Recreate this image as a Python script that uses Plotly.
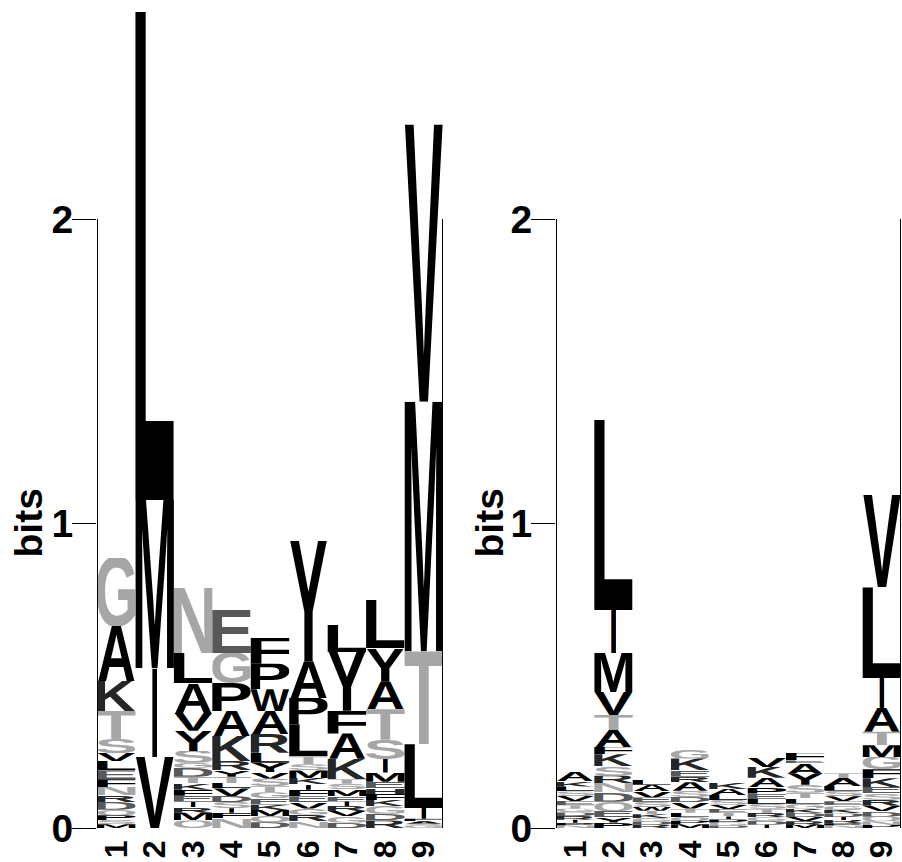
import base64
import plotly.graph_objects as go

# ---------------- data ----------------
POSITIONS = [1, 2, 3, 4, 5, 6, 7, 8, 9]
POSITION_LABELS = ["1", "2", "3", "4", "5", "6", "7", "8", "9"]
Y_TICKS = [0, 1, 2]
Y_TICK_LABELS = ["0", "1", "2"]
Y_TITLE = "bits"

# letters of each stack, from top to bottom, and their heights in bits
LEFT_LETTERS = [
    "GAKTSVLEFNRDQPSM",
    "LMIV",
    "NLAVYSGDTKFEIRMQ",
    "EGPAKRYTLVDSIFN",
    "FPWARLYVSTGEKMQD",
    "YAPLTSMKIFEVGRN",
    "LYFAKTSMEIRVGD",
    "LYATSIMEHFKGDR",
    "VMTLIFASG",
]
LEFT_BITS = [
    [0.224, 0.180, 0.099, 0.092, 0.046, 0.026, 0.030, 0.030, 0.025, 0.028, 0.022, 0.025, 0.018, 0.016, 0.014, 0.012],
    [1.603, 0.552, 0.292, 0.233],
    [0.213, 0.099, 0.098, 0.059, 0.066, 0.039, 0.016, 0.030, 0.020, 0.022, 0.020, 0.020, 0.018, 0.018, 0.025, 0.025],
    [0.144, 0.099, 0.092, 0.082, 0.082, 0.030, 0.022, 0.020, 0.018, 0.025, 0.020, 0.020, 0.015, 0.018, 0.032],
    [0.085, 0.083, 0.072, 0.075, 0.062, 0.033, 0.030, 0.022, 0.025, 0.020, 0.020, 0.020, 0.018, 0.020, 0.020, 0.019],
    [0.395, 0.121, 0.086, 0.105, 0.027, 0.020, 0.025, 0.020, 0.018, 0.022, 0.020, 0.020, 0.020, 0.022, 0.022],
    [0.089, 0.193, 0.075, 0.083, 0.067, 0.015, 0.018, 0.022, 0.018, 0.015, 0.016, 0.018, 0.020, 0.018],
    [0.159, 0.110, 0.090, 0.100, 0.063, 0.045, 0.030, 0.022, 0.018, 0.020, 0.020, 0.025, 0.022, 0.025],
    [0.910, 0.820, 0.305, 0.209, 0.036, 0.008, 0.008, 0.007, 0.007],
]

RIGHT_LETTERS = [
    "AKLSVETGDRIPN",
    "LIMVTAFKSRNDQEYP",
    "LAVESWTKGDR",
    "GKERASDVTLQPM",
    "KALSVETIPGD",
    "VKAPELSTRGDI",
    "FEAYSTLGKDVRM",
    "TALSVEGKDIRPN",
    "VLIATMGFKESRVDQNP",
]
RIGHT_BITS = [
    [0.030, 0.018, 0.016, 0.015, 0.016, 0.014, 0.012, 0.012, 0.012, 0.012, 0.010, 0.009, 0.008],
    [0.624, 0.141, 0.128, 0.076, 0.049, 0.056, 0.024, 0.040, 0.030, 0.024, 0.030, 0.032, 0.030, 0.020, 0.018, 0.018],
    [0.016, 0.022, 0.020, 0.015, 0.016, 0.012, 0.012, 0.012, 0.012, 0.010, 0.011],
    [0.028, 0.038, 0.022, 0.018, 0.028, 0.020, 0.018, 0.020, 0.014, 0.014, 0.012, 0.012, 0.012],
    [0.022, 0.020, 0.016, 0.016, 0.014, 0.012, 0.012, 0.010, 0.010, 0.010, 0.008],
    [0.030, 0.035, 0.030, 0.022, 0.018, 0.016, 0.016, 0.014, 0.014, 0.012, 0.012, 0.011],
    [0.024, 0.010, 0.034, 0.036, 0.026, 0.018, 0.018, 0.016, 0.014, 0.014, 0.014, 0.012, 0.010],
    [0.016, 0.026, 0.016, 0.018, 0.016, 0.014, 0.014, 0.012, 0.012, 0.010, 0.010, 0.008, 0.008],
    [0.304, 0.297, 0.099, 0.078, 0.044, 0.039, 0.040, 0.030, 0.028, 0.020, 0.022, 0.020, 0.018, 0.018, 0.015, 0.012, 0.010],
]

# ---------------- styling ----------------
FONT = "Liberation Sans, Arial, Helvetica, sans-serif"
LIGHT = "#a6a6a6"
DARK = "#595959"
VDARK = "#262626"
BLACK = "#000000"
COLOR = {c: BLACK for c in "ACDEFGHIKLMNPQRSTVWY"}
for c in "GSTNQC":
    COLOR[c] = LIGHT
for c in "ED":
    COLOR[c] = DARK
for c in "KRH":
    COLOR[c] = VDARK

CAP = 688  # cap height of Liberation Sans Bold in 1/1000 em
ADV = dict(A=722, C=722, D=722, E=667, F=611, G=778, H=722, I=278, K=722, L=611,
           M=833, N=722, P=667, Q=778, R=722, S=667, T=611, V=667, W=944, Y=667)
LSB = dict(A=0, C=49, D=76, E=76, F=76, G=44, H=73, I=64, K=76, L=76,
           M=69, N=76, P=76, Q=43, R=76, S=35, T=21, V=0, W=5, Y=0)
RSB = dict(A=0, C=45, D=47, E=53, F=47, G=50, H=73, I=64, K=0, L=28,
           M=69, N=76, P=40, Q=40, R=20, S=40, T=21, V=0, W=5, Y=0)

_cache = {}


def glyph_uri(ch):
    if ch in _cache:
        return _cache[ch]
    x0 = LSB[ch]
    w = ADV[ch] - LSB[ch] - RSB[ch]
    svg = (f'<svg xmlns="http://www.w3.org/2000/svg" width="{w}" height="{CAP}" '
           f'viewBox="{x0} {-CAP} {w} {CAP}" preserveAspectRatio="none">'
           f'<text x="0" y="0" font-family="{FONT}" font-weight="700" font-size="1000" '
           f'fill="{COLOR[ch]}">{ch}</text></svg>')
    uri = "data:image/svg+xml;base64," + base64.b64encode(svg.encode()).decode()
    _cache[ch] = uri
    return uri


W_PX, H_PX = 902, 862
BOTTOM = 34
PX_PER_BIT = 304.5
Y_MAX = (H_PX - BOTTOM) / PX_PER_BIT

fig = go.Figure()
images = []
shapes = []
annotations = []

panels = [
    ("x", "y", LEFT_LETTERS, LEFT_BITS, 28 / W_PX),
    ("x2", "y2", RIGHT_LETTERS, RIGHT_BITS, 489 / W_PX),
]
for xr, yr, letters, bits, title_x in panels:
    fig.add_trace(go.Scatter(x=POSITIONS, y=[0] * len(POSITIONS), mode="none",
                             hoverinfo="skip", showlegend=False, xaxis=xr, yaxis=yr))
    for pos, lets, hs in zip(POSITIONS, letters, bits):
        top = sum(hs)
        for ch, h in zip(lets, hs):
            wid = 0.13 if ch == "I" else 1.0
            images.append(dict(source=glyph_uri(ch), xref=xr, yref=yr,
                               x=pos - wid / 2, y=top, sizex=wid, sizey=h,
                               xanchor="left", yanchor="top", sizing="stretch",
                               layer="above"))
            top -= h
    for xv in (POSITIONS[0] - 0.5, POSITIONS[-1] + 0.5):
        shapes.append(dict(type="line", xref=xr, yref=yr, x0=xv, x1=xv,
                           y0=0, y1=Y_TICKS[-1], line=dict(color="black", width=2)))
    annotations.append(dict(text=Y_TITLE, xref="paper", yref=yr, x=title_x,
                            y=(Y_TICKS[0] + Y_TICKS[-1]) / 2, textangle=-90,
                            showarrow=False, xanchor="center", yanchor="middle",
                            font=dict(family=FONT, size=39, color="black", weight="bold")))

axis_common_x = dict(range=[0.5, 9.5], tickvals=POSITIONS, ticktext=POSITION_LABELS,
                     tickangle=-90, showgrid=False, zeroline=False, showline=False,
                     ticks="", ticklabelstandoff=5,
                     tickfont=dict(family=FONT, size=32, color="black", weight="bold"),
                     fixedrange=True)
axis_common_y = dict(range=[0, Y_MAX], tickvals=Y_TICKS, ticktext=Y_TICK_LABELS,
                     ticks="outside", ticklen=24, tickwidth=1.3, tickcolor="black",
                     showgrid=False, zeroline=False, showline=False,
                     ticklabelstandoff=-9,
                     tickfont=dict(family=FONT, size=39, color="black", weight="bold"),
                     fixedrange=True)

fig.update_layout(
    width=W_PX, height=H_PX,
    margin=dict(l=0, r=0, t=0, b=BOTTOM, pad=0),
    paper_bgcolor="white", plot_bgcolor="white",
    xaxis=dict(domain=[97 / W_PX, 443 / W_PX], anchor="y", **axis_common_x),
    yaxis=dict(domain=[0, 1], anchor="x", **axis_common_y),
    xaxis2=dict(domain=[556 / W_PX, 901 / W_PX], anchor="y2", **axis_common_x),
    yaxis2=dict(domain=[0, 1], anchor="x2", **axis_common_y),
    images=images,
    shapes=shapes,
    annotations=annotations,
    showlegend=False,
)

fig.write_html("out.html")
